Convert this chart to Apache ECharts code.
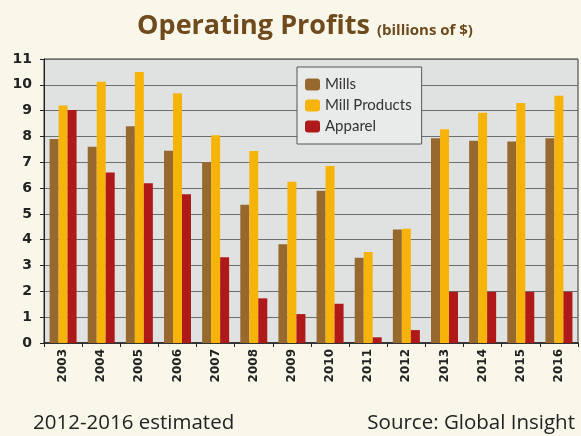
<!DOCTYPE html>
<html>
<head>
<meta charset="utf-8">
<script src="https://cdn.jsdelivr.net/npm/echarts@6/dist/echarts.min.js"></script>
<style>
  html, body { margin: 0; padding: 0; background: #f8f7ea; }
  #chart { width: 581px; height: 436px; }
</style>
</head>
<body>
<div id="chart"></div>
<script>
// data
const years = ['2003','2004','2005','2006','2007','2008','2009','2010','2011','2012','2013','2014','2015','2016'];
const mills = [7.9, 7.6, 8.4, 7.45, 7.0, 5.35, 3.82, 5.9, 3.3, 4.4, 7.93, 7.83, 7.8, 7.93];
const millProducts = [9.2, 10.12, 10.5, 9.67, 8.05, 7.44, 6.25, 6.86, 3.52, 4.43, 8.28, 8.92, 9.3, 9.58];
const apparel = [9.02, 6.6, 6.19, 5.76, 3.32, 1.73, 1.12, 1.52, 0.22, 0.5, 1.98, 1.98, 1.98, 1.98];
const yTicks = ['0','1','2','3','4','5','6','7','8','9','10','11'];

const myChart = echarts.init(document.getElementById('chart'));
const option = {
    backgroundColor: '#f8f7ea',
    animation: false,
    title: [
        {
            text: 'Operating Profits {s|(billions of $)}',
            left: 300,
            top: 8,
            textAlign: 'center',
            textStyle: {
                fontFamily: 'Open Sans',
                fontWeight: 'bold',
                fontSize: 27,
                color: '#6e4a1c',
                rich: {
                    s: {fontFamily: 'Open Sans', fontWeight: 'bold', fontSize: 15, color: '#6e4a1c', padding: [8, 0, 0, 0]}
                }
            }
        },
        {
            text: '2012-2016 estimated',
            left: 28,
            top: 408,
            textStyle: {fontFamily: 'Open Sans', fontWeight: 'normal', fontSize: 20.5, color: '#222'}
        },
        {
            text: 'Source: Global Insight',
            right: 1,
            top: 408,
            textStyle: {fontFamily: 'Open Sans', fontWeight: 'normal', fontSize: 20.5, color: '#222'}
        }
    ],
    legend: {
        orient: 'vertical',
        left: 297,
        top: 67,
        width: 125,
        padding: [10, 10, 10, 8],
        itemGap: 6,
        itemWidth: 15,
        itemHeight: 12,
        backgroundColor: '#e9ebea',
        borderColor: '#555',
        borderWidth: 1,
        textStyle: {fontFamily: 'Lato', fontSize: 15, color: '#333'},
        data: ['Mills', 'Mill Products', 'Apparel']
    },
    grid: {
        left: 44,
        right: 3,
        top: 59,
        bottom: 93,
        show: true,
        backgroundColor: '#dfe2e1',
        borderColor: '#333',
        borderWidth: 1
    },
    xAxis: {
        type: 'category',
        data: years,
        axisLine: {lineStyle: {color: '#222', width: 1.5}},
        axisTick: {show: true, length: 4, lineStyle: {color: '#222'}},
        axisLabel: {
            rotate: 90,
            fontFamily: 'DejaVu Sans',
            fontWeight: 'bold',
            fontSize: 12,
            color: '#222',
            margin: 6
        }
    },
    yAxis: {
        type: 'value',
        min: 0,
        max: 11,
        interval: 1,
        axisLine: {show: true, lineStyle: {color: '#222'}},
        axisTick: {show: true, length: 4, lineStyle: {color: '#222'}},
        axisLabel: {
            fontFamily: 'DejaVu Sans',
            fontWeight: 'bold',
            fontSize: 14,
            color: '#222',
            margin: 12,
            formatter: function (v) { return yTicks[v]; }
        },
        splitLine: {lineStyle: {color: '#6e6e6e', width: 1}}
    },
    series: [
        {name: 'Mills', type: 'bar', data: mills, barWidth: 9, barGap: '0%',
         itemStyle: {color: '#98692f'}},
        {name: 'Mill Products', type: 'bar', data: millProducts, barWidth: 9, barGap: '0%',
         itemStyle: {color: '#f6b40a'}},
        {name: 'Apparel', type: 'bar', data: apparel, barWidth: 9, barGap: '0%',
         itemStyle: {color: '#b01919'}}
    ]
};
myChart.setOption(option);
</script>
</body>
</html>
